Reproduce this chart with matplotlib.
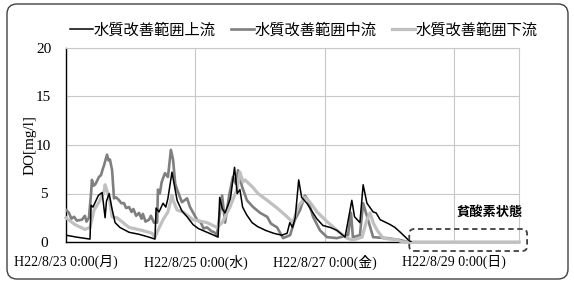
import matplotlib
matplotlib.use("Agg")
import matplotlib.pyplot as plt
from matplotlib.patches import FancyBboxPatch
from matplotlib.lines import Line2D
from matplotlib.transforms import IdentityTransform

# ---- data (hours since H22/8/23 0:00, DO mg/l) ----
up_h = [0, 4, 8.9, 9.3, 10, 11, 12, 13.4, 14.5, 15, 16, 17, 18.2, 20, 23.4, 27, 30.8, 33, 33.4,
        34.5, 36, 37, 37.8, 39.3, 41.2, 42, 43, 44.9, 47.1, 49, 52.3, 54, 56.4, 57, 58, 59,
        61, 62.5, 63.5, 64.5, 65.5, 67, 69, 71, 74, 77, 80, 82, 83, 84, 85, 86.3,
        87.4, 89.3, 91.6, 93, 95.3, 98, 100.5, 103.5, 106, 107, 109, 110.2, 111.6, 113.9,
        115, 116.5, 118, 120.2, 122, 124, 127, 128]
up_v = [0.7, 0.5, 0.3, 3.8, 3.6, 4.2, 4.8, 5.1, 2.5, 4.2, 5.0, 3.5, 2.0, 1.5, 1.0, 0.8, 0.5,
        0.3, 3.5, 3.1, 4.0, 3.6, 4.5, 7.2, 4.3, 3.8, 3.2, 2.6, 1.8, 1.4, 1.0, 0.8, 0.5, 4.6,
        3.4, 3.0, 4.5, 7.7, 5.0, 5.4, 3.6, 2.8, 2.0, 1.6, 1.2, 0.9, 0.7, 0.9, 2.0, 1.5, 2.5,
        6.4, 4.6, 4.0, 3.0, 2.4, 1.7, 1.5, 1.2, 0.5, 4.3, 2.6, 2.0, 5.9, 4.0, 3.1,
        3.0, 2.3, 2.1, 1.8, 1.5, 1.0, 0.2, 0.0]

mid_h = [0, 1.1, 2, 3, 4, 5.9, 7, 7.6, 8.5, 9.3, 9.6, 10.3, 11, 12.2, 13, 13.6, 14.1, 15.2,
         15.8, 16.3, 17.1, 17.8, 18.6, 19.7, 20.5, 21.5, 22.3, 23.4, 24.3, 25, 26, 27.1, 28,
         28.5, 29.5, 30.8, 31.5, 32.6, 33.8, 34.1, 34.8, 35.5, 36.7, 37.8, 38.4, 38.9,
         39.7, 40.5, 41.2, 43.0, 44.9, 46.0, 47.2, 48.6, 50, 51, 52.3, 54, 55, 56.0, 57.9,
         59.0, 60.5, 61.9, 63.0, 63.8, 65.3, 67.1, 69.4, 72, 74.6, 76, 78.3, 80.5, 83.1,
         84.9, 86.8, 88.6, 89.8, 91.6, 94.2, 96.8, 100.5, 104.6, 105.7, 106.4, 109.0,
         110.2, 112.0, 113.9, 119.1, 123.9, 126.8]
mid_v = [3.3, 3.0, 2.4, 2.6, 2.2, 2.3, 2.7, 2.1, 2.5, 5.0, 6.4, 5.8, 6.0, 6.7, 6.9, 7.5,
         7.9, 9.0, 8.4, 8.5, 7.4, 4.5, 4.6, 4.3, 4.0, 4.0, 3.5, 3.6, 3.1, 3.4, 2.7, 3.0, 2.4,
         2.9, 2.1, 2.3, 2.7, 2.0, 2.0, 5.4, 5.0, 6.2, 7.1, 6.7, 8.2, 9.5,
         8.5, 6.0, 5.4, 4.1, 4.5, 3.6, 3.0, 2.3, 2.0, 1.4, 1.5, 1.1, 1.0, 0.7, 4.8,
         2.0, 4.8, 6.7, 6.0, 7.4, 5.7, 4.3, 3.6, 3.0, 2.6, 1.9, 1.5, 0.4, 0.7,
         2.3, 3.3, 4.8, 4.3, 2.6, 1.2, 0.5, 0.4, 0.7, 3.0, 0.5, 0.7,
         4.0, 2.3, 0.5, 0.4, 0.2, 0.0]

low_h = [0, 3.3, 7.0, 8.9, 10.4, 12.2, 14.1, 14.5, 16.0, 17.1, 18.9, 23.4, 28.2, 31.9, 33.0,
         34.1, 36.0, 37.8, 39.3, 39.7, 41.2, 43.4, 47.1, 52.3, 56.0, 57.9, 60.8, 63.4, 64.5,
         65.6, 66.4, 69.4, 71.2, 74.6, 78.3, 82.0, 84.2, 86.0, 88.6, 90.5, 93.1, 96.8, 100.5,
         104.2, 106.4, 109.8, 111.6, 112.8, 113.9, 115.4, 117.6, 122.8, 125, 168]
low_v = [2.5, 1.8, 1.3, 1.5, 3.3, 4.1, 5.2, 5.9, 4.6, 2.6, 2.5, 1.5, 1.2, 0.9, 0.5,
         1.2, 2.3, 3.1, 4.8, 4.3, 3.3, 3.1, 2.3, 2.0, 1.5, 2.0, 3.6, 5.4, 7.2,
         6.2, 6.4, 5.6, 5.0, 4.3, 3.5, 2.6, 2.0, 3.6, 4.6, 4.1, 3.1, 2.1, 1.2,
         0.4, 0.2, 0.5, 2.3, 3.0, 2.0, 1.2, 0.4, 0.2, 0.0, 0.0]

series_names = ["水質改善範囲上流", "水質改善範囲中流", "水質改善範囲下流"]
xtick_pos = [0, 48, 96, 144]
xtick_labels = ["H22/8/23 0:00(月)", "H22/8/25 0:00(水)", "H22/8/27 0:00(金)", "H22/8/29 0:00(日)"]
ytick_pos = [0, 5, 10, 15, 20]
note_text = "貧酸素状態"

SERIF = ["Liberation Serif", "Noto Sans CJK JP"]
CJK = ["Noto Sans CJK JP", "DejaVu Sans"]

W, H = 574, 282
fig = plt.figure(figsize=(W / 100, H / 100), dpi=100)
ax = fig.add_axes([66 / W, 1 - 242 / H, (519 - 66) / W, (242 - 48) / H])

ax.plot(up_h, up_v, color="#000000", lw=1.1, zorder=5, label=series_names[0])
ax.plot(mid_h, mid_v, color="#7f7f7f", lw=1.9, zorder=3, label=series_names[1])
ax.plot(low_h, low_v, color="#c0c0c0", lw=2.3, zorder=4, label=series_names[2], clip_on=False)

ax.set_xlim(0, 168)
ax.set_ylim(0, 20)
ax.set_xticks(xtick_pos)
ax.set_xticklabels(xtick_labels, family=SERIF, fontsize=10)
ax.set_yticks(ytick_pos)
ax.set_yticklabels([str(v) for v in ytick_pos], family=SERIF, fontsize=11)
ax.tick_params(axis="both", length=0)
ax.tick_params(axis="x", pad=9)
ax.tick_params(axis="y", pad=16)
for lb in ax.get_yticklabels():
    lb.set_ha("center")
ax.grid(True, color="#c8c8c8", lw=0.8, zorder=0)
ax.set_axisbelow(True)
for s in ["top", "right"]:
    ax.spines[s].set_color("#c8c8c8")
    ax.spines[s].set_linewidth(0.8)
for s in ["left", "bottom"]:
    ax.spines[s].set_color("#000000")
    ax.spines[s].set_linewidth(1.0)
ax.set_ylabel("DO[mg/l]", family=SERIF, fontsize=11, labelpad=0)

# legend
handles = [Line2D([], [], color=c, lw=lw) for c, lw in
           [("#000000", 1.1), ("#7f7f7f", 1.9), ("#c0c0c0", 2.3)]]
fig.legend(handles, series_names, loc="center", bbox_to_anchor=(304 / W, 1 - 30 / H),
           ncol=3, frameon=False, prop={"family": CJK, "size": 11},
           handlelength=1.5, handletextpad=0.05, columnspacing=1.0, borderaxespad=0)

# annotation
ax.text(157, 3.1, note_text, family=CJK, fontsize=9.5, fontweight="bold", ha="center",
        va="center", color="#000000", zorder=6)

fig.canvas.draw()
x0, y0 = ax.transData.transform((127.3, -0.93))
x1, y1 = ax.transData.transform((171.0, 1.34))
box = FancyBboxPatch((x0, y0), x1 - x0, y1 - y0, boxstyle="round,pad=0,rounding_size=5",
                     transform=IdentityTransform(), fill=False, ec="#404040", lw=1.3,
                     ls=(0, (3, 2)), zorder=7)
fig.patches.append(box)

frame = FancyBboxPatch((7, H - 279), 561, 275, boxstyle="round,pad=0,rounding_size=10",
                       transform=IdentityTransform(), fill=False, ec="#404040", lw=1.0)
fig.patches.append(frame)

fig.savefig("out.png", dpi=100)
